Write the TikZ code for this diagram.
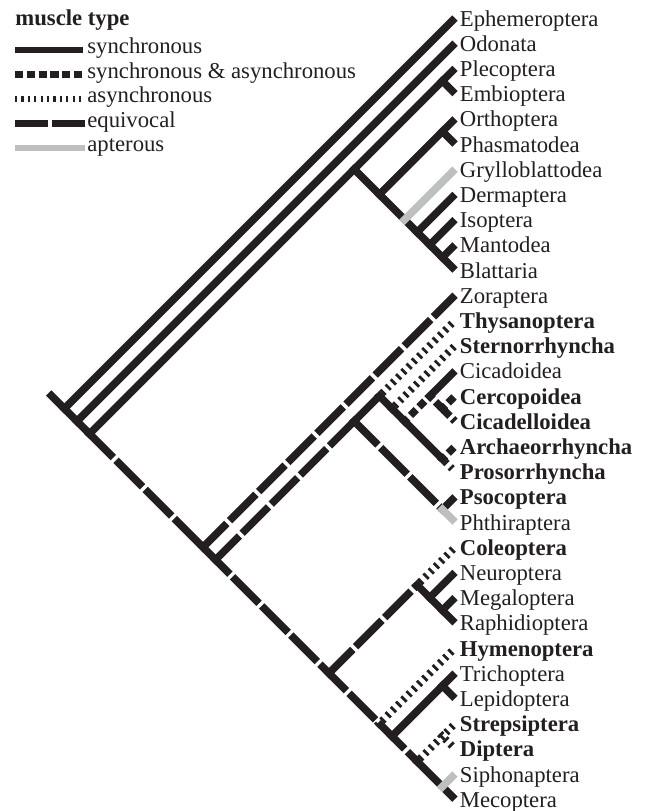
\documentclass[tikz,border=0pt]{standalone}
\usepackage{fontspec}
\setmainfont{Liberation Serif}
\definecolor{ink}{RGB}{35,31,32}
\definecolor{aptgray}{RGB}{190,191,193}
\newcommand\tipx{455}
\newcommand\ytop{18}
\newcommand\hstep{12.6}
\newcommand\mkclade[2]{\coordinate (c#1-#2) at ({\tipx-(#2-#1)*\hstep},{\ytop+(#1+#2-2)*\hstep});}
\tikzset{
  edge/.style={line width=3.75pt, line cap=butt, line join=miter, shorten <=-1.875pt},
  syn/.style={edge, draw=ink},
  both/.style={edge, draw=ink, dash pattern=on 4.1pt off 1.9pt},
  asyn/.style={edge, draw=ink, dash pattern=on 1.4pt off 2.3pt},
  equiv/.style={edge, draw=ink, dash pattern=on 18.7pt off 1.9pt},
  apt/.style={edge, draw=aptgray},
  lab/.style={anchor=base west, inner sep=0pt, text=ink, font=\fontsize{11.35pt}{13pt}\selectfont},
  swatch/.style={line width=3.25pt, line cap=butt},
}
\begin{document}
\begin{tikzpicture}[x=0.5pt,y=-0.5pt]
\useasboundingbox (0,0) rectangle (647,811);
% leaves and clades
\foreach \k in {1,...,32} {\mkclade{\k}{\k}}
\foreach \i/\j in {1/32,2/32,3/32,3/11,3/4,5/11,5/6,7/11,8/11,9/11,10/11,12/32,13/32,13/21,13/19,14/19,15/19,15/17,16/17,18/19,20/21,22/32,22/25,23/25,24/25,26/32,27/32,27/28,29/32,29/30,31/32} {\mkclade{\i}{\j}}
\path (c1-32) ++(-13,-13) coordinate (stub);

% backbone
\draw[syn] (stub) -- (c1-32) -- (c2-32) -- (c3-32);
\draw[equiv] (c3-32) -- (c12-32) -- (c13-32) -- (c22-32) -- (c26-32) -- (c27-32) -- (c29-32);
\draw[syn] (c29-32) -- (c31-32) -- (c32-32);

% upper part
\draw[syn] (c1-32) -- (c1-1);
\draw[syn] (c2-32) -- (c2-2);
\draw[syn] (c3-32) -- (c3-11) -- (c3-4) -- (c3-3);
\draw[syn] (c3-4) -- (c4-4);
\draw[syn] (c3-11) -- (c5-11) -- (c7-11) -- (c8-11) -- (c9-11) -- (c10-11) -- (c11-11);
\draw[syn] (c5-11) -- (c5-6) -- (c5-5);
\draw[syn] (c5-6) -- (c6-6);
\draw[apt] (c7-11) -- (c7-7);
\draw[syn] (c8-11) -- (c8-8);
\draw[syn] (c9-11) -- (c9-9);
\draw[syn] (c10-11) -- (c10-10);

% middle part
\draw[equiv] (c12-32) -- (c12-12);
\draw[equiv] (c13-32) -- (c13-21);
\draw[syn] (c13-21) -- (c13-19);
\draw[asyn] (c13-19) -- (c13-13);
\draw[equiv] (c13-21) -- (c20-21);
\draw[syn] (c20-21) -- (c20-20);
\draw[apt] (c20-21) -- (c21-21);
\draw[syn] (c13-19) -- (c14-19) -- (c15-19) -- (c18-19);
\draw[asyn] (c14-19) -- (c14-14);
\draw[both] (c15-19) -- (c15-17);
\draw[syn] (c15-17) -- (c15-15);
\draw[both] (c15-17) -- (c16-17) -- (c17-17);
\draw[both] (c16-17) -- (c16-16);
\draw[both] (c18-19) -- (c18-18);
\draw[asyn] (c18-19) -- (c19-19);

% lower part
\draw[equiv] (c22-32) -- (c22-25);
\draw[asyn] (c22-25) -- (c22-22);
\draw[syn] (c22-25) -- (c23-25) -- (c24-25) -- (c25-25);
\draw[syn] (c23-25) -- (c23-23);
\draw[syn] (c24-25) -- (c24-24);
\draw[asyn] (c26-32) -- (c26-26);
\draw[syn] (c27-32) -- (c27-28) -- (c27-27);
\draw[syn] (c27-28) -- (c28-28);
\draw[asyn] (c29-32) -- (c29-30) -- (c29-29);
\draw[asyn] (c29-30) -- (c30-30);
\draw[apt] (c31-32) -- (c31-31);

% leaf labels
\foreach \k/\t/\f in {1/Ephemeroptera/\mdseries, 2/Odonata/\mdseries, 3/Plecoptera/\mdseries,
  4/Embioptera/\mdseries, 5/Orthoptera/\mdseries, 6/Phasmatodea/\mdseries,
  7/Grylloblattodea/\mdseries, 8/Dermaptera/\mdseries, 9/Isoptera/\mdseries,
  10/Mantodea/\mdseries, 11/Blattaria/\mdseries, 12/Zoraptera/\mdseries,
  13/Thysanoptera/\bfseries, 14/Sternorrhyncha/\bfseries, 15/Cicadoidea/\mdseries,
  16/Cercopoidea/\bfseries, 17/Cicadelloidea/\bfseries, 18/Archaeorrhyncha/\bfseries,
  19/Prosorrhyncha/\bfseries, 20/Psocoptera/\bfseries, 21/Phthiraptera/\mdseries,
  22/Coleoptera/\bfseries, 23/Neuroptera/\mdseries, 24/Megaloptera/\mdseries,
  25/Raphidioptera/\mdseries, 26/Hymenoptera/\bfseries, 27/Trichoptera/\mdseries,
  28/Lepidoptera/\mdseries, 29/Strepsiptera/\bfseries, 30/Diptera/\bfseries,
  31/Siphonaptera/\mdseries, 32/Mecoptera/\mdseries}
  {\node[lab] (l\k) at ({\tipx+4.5},{\ytop+(\k-1)*2*\hstep+8}) {\f\t};}

% legend
\node[lab] (title) at (15,25.5) {\bfseries muscle type};
\draw[swatch, draw=ink] (15,50) -- (83,50);
\node[lab] (tsyn) at (87,53.5) {synchronous};
\draw[swatch, draw=ink, line width=3.6pt, dash pattern=on 4.1pt off 1.8pt] (15,74.5) -- (82.5,74.5);
\node[lab] (tboth) at (87,78) {synchronous \& asynchronous};
\draw[swatch, draw=ink, line width=3.4pt, dash pattern=on 1.15pt off 2.05pt] (15,99) -- (81.5,99);
\node[lab] (tasyn) at (87,102.5) {asynchronous};
\fill[ink] (15,120.25) rectangle (48,126.75);
\fill[ink] (52,120.25) rectangle (85,126.75);
\node[lab] (tequiv) at (87,127) {equivocal};
\draw[swatch, draw=aptgray] (15,148) -- (85,148);
\node[lab] (tapt) at (87,151.5) {apterous};
\end{tikzpicture}
\end{document}
